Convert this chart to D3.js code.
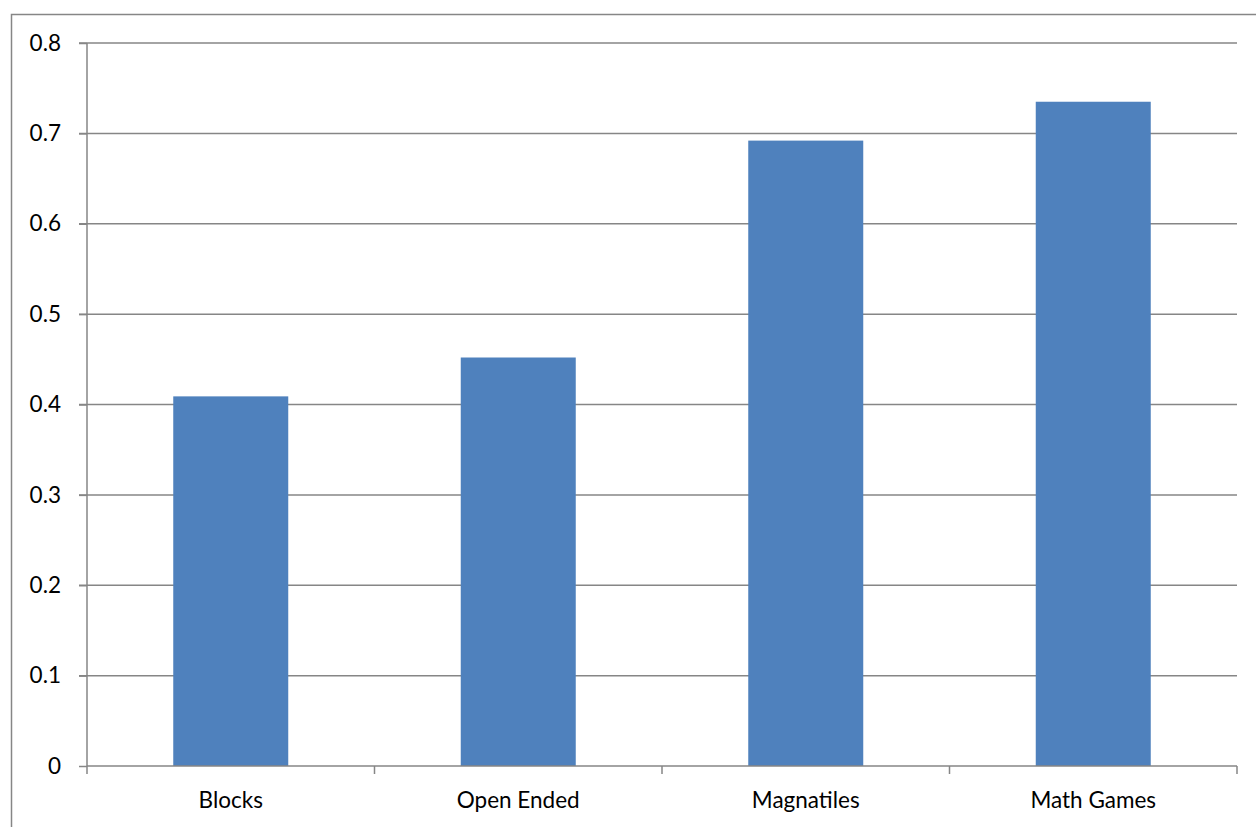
<!DOCTYPE html>
<html><head><meta charset="utf-8">
<script src="https://cdn.jsdelivr.net/npm/d3@7"></script>
<style>body{margin:0;background:#fff}svg{display:block}</style>
</head><body>
<script>
const categories = ["Blocks", "Open Ended", "Magnatiles", "Math Games"];
const values = [0.409, 0.452, 0.692, 0.735];
const yTicks = [0, 0.1, 0.2, 0.3, 0.4, 0.5, 0.6, 0.7, 0.8];

const W = 1256, H = 827;
const svg = d3.select("body").append("svg").attr("width", W).attr("height", H);
const font = "Lato, 'Open Sans', sans-serif";
const grey = "#868686";
const fs = 22.5;

svg.append("rect").attr("x", 11.5).attr("y", 14.5).attr("width", W).attr("height", H)
  .attr("fill", "none").attr("stroke", grey).attr("stroke-width", 1.5);

const x0 = 87, x1 = 1237, yTop = 43, yBot = 766;
const x = d3.scaleBand().domain(categories).range([x0, x1]).paddingInner(0.6).paddingOuter(0.3);
const y = d3.scaleLinear().domain([0, 0.8]).range([yBot, yTop]);

// gridlines
svg.append("g").selectAll("line").data(yTicks.filter(d => d > 0)).join("line")
  .attr("x1", x0 - 8).attr("x2", x1).attr("y1", d => y(d)).attr("y2", d => y(d))
  .attr("stroke", grey).attr("stroke-width", 1.5);

// bars
svg.append("g").selectAll("rect").data(values).join("rect")
  .attr("x", (d, i) => x(categories[i])).attr("width", x.bandwidth())
  .attr("y", d => y(d)).attr("height", d => y(0) - y(d))
  .attr("fill", "#4f81bd");

// y axis
const yAxis = d3.axisLeft(y).tickValues(yTicks).tickSize(8).tickPadding(18)
  .tickFormat(d => d === 0 ? "0" : d3.format(".1f")(d));
const gy = svg.append("g").attr("transform", `translate(${x0},0)`).call(yAxis);
gy.select(".domain").attr("stroke", grey).attr("stroke-width", 1.5).attr("d", `M0,${yTop}V${yBot}`);
gy.selectAll(".tick line").attr("stroke", grey).attr("stroke-width", 1.5);
gy.selectAll("text").attr("font-family", font).attr("font-size", fs).attr("fill", "#000");

// x axis
const gx = svg.append("g").attr("transform", `translate(0,${yBot})`);
gx.append("line").attr("x1", x0).attr("x2", x1).attr("stroke", grey).attr("stroke-width", 1.5);
const bounds = categories.map(c => x(c) - x.step() * x.paddingInner() / 2 ).concat([x1]);
bounds[0] = x0;
gx.selectAll("line.t").data(bounds).join("line").attr("class", "t")
  .attr("x1", d => d).attr("x2", d => d).attr("y1", 0).attr("y2", 8)
  .attr("stroke", grey).attr("stroke-width", 1.5);
gx.selectAll("text").data(categories).join("text")
  .attr("x", d => x(d) + x.bandwidth() / 2).attr("y", 42)
  .attr("text-anchor", "middle").attr("font-family", font).attr("font-size", fs).attr("fill", "#000")
  .text(d => d);
</script>
</body></html>
